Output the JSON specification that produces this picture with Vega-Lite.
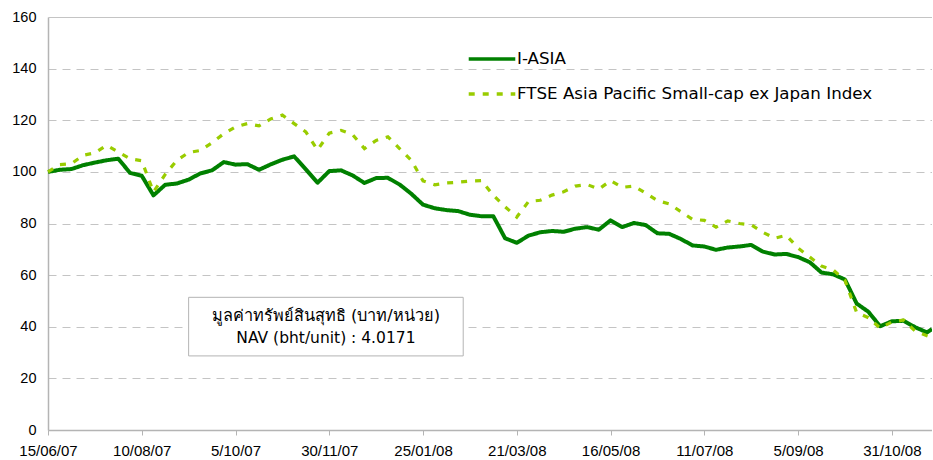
{
  "$schema": "https://vega.github.io/schema/vega-lite/v6.json",
  "width": 884,
  "height": 413,
  "autosize": {"type": "none"},
  "padding": {"left": 48, "top": 17, "right": 0, "bottom": 30},
  "background": "white",
  "config": {"view": {"stroke": null}, "font": "Liberation Sans"},
  "datasets": {
    "nav": [
      {"date": "2007-06-15", "iasia": 100, "ftse": 100},
      {"date": "2007-06-22", "iasia": 100.8, "ftse": 102.8},
      {"date": "2007-06-29", "iasia": 101.1, "ftse": 103.2},
      {"date": "2007-07-06", "iasia": 102.6, "ftse": 106.4},
      {"date": "2007-07-13", "iasia": 103.6, "ftse": 107.4},
      {"date": "2007-07-20", "iasia": 104.5, "ftse": 110.3},
      {"date": "2007-07-27", "iasia": 105.1, "ftse": 107.7},
      {"date": "2007-08-03", "iasia": 99.6, "ftse": 105.1},
      {"date": "2007-08-10", "iasia": 98.5, "ftse": 104.3},
      {"date": "2007-08-17", "iasia": 90.9, "ftse": 92.2},
      {"date": "2007-08-24", "iasia": 95, "ftse": 99},
      {"date": "2007-08-31", "iasia": 95.5, "ftse": 104.5},
      {"date": "2007-09-07", "iasia": 97, "ftse": 107.5},
      {"date": "2007-09-14", "iasia": 99.4, "ftse": 108.3},
      {"date": "2007-09-21", "iasia": 100.6, "ftse": 111.3},
      {"date": "2007-09-28", "iasia": 103.8, "ftse": 114.8},
      {"date": "2007-10-05", "iasia": 102.8, "ftse": 117.4},
      {"date": "2007-10-12", "iasia": 103, "ftse": 118.7},
      {"date": "2007-10-19", "iasia": 100.8, "ftse": 117.8},
      {"date": "2007-10-26", "iasia": 102.9, "ftse": 120.5},
      {"date": "2007-11-02", "iasia": 104.7, "ftse": 122},
      {"date": "2007-11-09", "iasia": 106, "ftse": 118.7},
      {"date": "2007-11-16", "iasia": 101, "ftse": 115.5},
      {"date": "2007-11-23", "iasia": 95.8, "ftse": 108.5},
      {"date": "2007-11-30", "iasia": 100.3, "ftse": 115},
      {"date": "2007-12-07", "iasia": 100.6, "ftse": 116.1},
      {"date": "2007-12-14", "iasia": 98.6, "ftse": 114.4},
      {"date": "2007-12-21", "iasia": 95.7, "ftse": 109},
      {"date": "2007-12-28", "iasia": 97.6, "ftse": 112.2},
      {"date": "2008-01-04", "iasia": 97.7, "ftse": 113.6},
      {"date": "2008-01-11", "iasia": 95.1, "ftse": 109},
      {"date": "2008-01-18", "iasia": 91.5, "ftse": 104.5},
      {"date": "2008-01-25", "iasia": 87.3, "ftse": 96.5},
      {"date": "2008-02-01", "iasia": 85.9, "ftse": 95},
      {"date": "2008-02-08", "iasia": 85.2, "ftse": 95.7},
      {"date": "2008-02-15", "iasia": 84.8, "ftse": 96},
      {"date": "2008-02-22", "iasia": 83.4, "ftse": 96.4},
      {"date": "2008-02-29", "iasia": 82.8, "ftse": 96.6},
      {"date": "2008-03-07", "iasia": 82.8, "ftse": 90.9},
      {"date": "2008-03-14", "iasia": 74.3, "ftse": 86.5},
      {"date": "2008-03-21", "iasia": 72.5, "ftse": 82.5},
      {"date": "2008-03-28", "iasia": 75.3, "ftse": 88.5},
      {"date": "2008-04-04", "iasia": 76.6, "ftse": 89},
      {"date": "2008-04-11", "iasia": 77.1, "ftse": 91},
      {"date": "2008-04-18", "iasia": 76.8, "ftse": 92.3},
      {"date": "2008-04-25", "iasia": 78, "ftse": 94.5},
      {"date": "2008-05-02", "iasia": 78.6, "ftse": 95.1},
      {"date": "2008-05-09", "iasia": 77.6, "ftse": 93.3},
      {"date": "2008-05-16", "iasia": 81.2, "ftse": 96.6},
      {"date": "2008-05-23", "iasia": 78.6, "ftse": 94},
      {"date": "2008-05-30", "iasia": 80.2, "ftse": 94.5},
      {"date": "2008-06-06", "iasia": 79.4, "ftse": 91.8},
      {"date": "2008-06-13", "iasia": 76.2, "ftse": 88.9},
      {"date": "2008-06-20", "iasia": 76, "ftse": 87.6},
      {"date": "2008-06-27", "iasia": 74, "ftse": 84.6},
      {"date": "2008-07-04", "iasia": 71.5, "ftse": 81.6},
      {"date": "2008-07-11", "iasia": 71.1, "ftse": 81.2},
      {"date": "2008-07-18", "iasia": 69.8, "ftse": 78.6},
      {"date": "2008-07-25", "iasia": 70.7, "ftse": 81},
      {"date": "2008-08-01", "iasia": 71.1, "ftse": 80},
      {"date": "2008-08-08", "iasia": 71.7, "ftse": 79.5},
      {"date": "2008-08-15", "iasia": 69.1, "ftse": 76.6},
      {"date": "2008-08-22", "iasia": 68, "ftse": 74.3},
      {"date": "2008-08-29", "iasia": 68.2, "ftse": 75.4},
      {"date": "2008-09-05", "iasia": 67, "ftse": 70.5},
      {"date": "2008-09-12", "iasia": 65, "ftse": 67},
      {"date": "2008-09-19", "iasia": 61, "ftse": 63.5},
      {"date": "2008-09-26", "iasia": 60.3, "ftse": 62},
      {"date": "2008-10-03", "iasia": 58.3, "ftse": 58},
      {"date": "2008-10-10", "iasia": 49, "ftse": 45.5},
      {"date": "2008-10-17", "iasia": 45.8, "ftse": 43.5},
      {"date": "2008-10-24", "iasia": 40.2, "ftse": 39.5},
      {"date": "2008-10-31", "iasia": 42.1, "ftse": 41.8},
      {"date": "2008-11-07", "iasia": 42.3, "ftse": 42.6},
      {"date": "2008-11-14", "iasia": 39.8, "ftse": 38.3},
      {"date": "2008-11-21", "iasia": 37.8, "ftse": 36.5},
      {"date": "2008-11-24", "iasia": 39.1, "ftse": 35.8}
    ]
  },
  "layer": [
    {
      "data": {"values": [{}]},
      "mark": {"type": "rect", "fill": "white", "stroke": "#b4b4b4", "strokeWidth": 1},
      "encoding": {
        "x": {"datum": {"year": 2007, "month": 9, "date": 7, "utc": true}, "type": "temporal"},
        "x2": {"datum": {"year": 2008, "month": 2, "date": 18, "utc": true}},
        "y": {"datum": 51.4, "type": "quantitative"},
        "y2": {"datum": 28.7}
      }
    },
    {
      "data": {"values": [{}]},
      "mark": {"type": "text", "font": "DejaVu Sans", "fontSize": 16.3, "color": "black", "align": "center", "baseline": "middle"},
      "encoding": {
        "x": {"datum": {"year": 2007, "month": 11, "date": 28, "utc": true}, "type": "temporal"},
        "y": {"datum": 44.1, "type": "quantitative"},
        "text": {"value": "มูลค่าทรัพย์สินสุทธิ (บาท/หน่วย)"}
      }
    },
    {
      "data": {"values": [{}]},
      "mark": {"type": "text", "font": "DejaVu Sans", "fontSize": 15.5, "color": "black", "align": "center", "baseline": "middle"},
      "encoding": {
        "x": {"datum": {"year": 2007, "month": 11, "date": 28, "utc": true}, "type": "temporal"},
        "y": {"datum": 35.6, "type": "quantitative"},
        "text": {"value": "NAV (bht/unit) : 4.0171"}
      }
    },
    {
      "data": {"name": "nav"},
      "transform": [
        {"fold": ["iasia", "ftse"], "as": ["series", "value"]},
        {"filter": "datum.series == 'iasia'"}
      ],
      "mark": {"type": "line", "strokeWidth": 4, "strokeJoin": "round"},
      "encoding": {
        "x": {"field": "date", "type": "temporal"},
        "y": {"field": "value", "type": "quantitative"},
        "color": {"field": "series", "type": "nominal"},
        "strokeDash": {"field": "series", "type": "nominal"}
      }
    },
    {
      "data": {"name": "nav"},
      "transform": [
        {"fold": ["iasia", "ftse"], "as": ["series", "value"]},
        {"filter": "datum.series == 'ftse'"}
      ],
      "mark": {"type": "line", "strokeWidth": 3.2},
      "encoding": {
        "x": {"field": "date", "type": "temporal"},
        "y": {"field": "value", "type": "quantitative"},
        "color": {"field": "series", "type": "nominal"},
        "strokeDash": {"field": "series", "type": "nominal"}
      }
    }
  ],
  "resolve": {"scale": {"x": "shared", "y": "shared"}},
  "encoding": {
    "x": {
      "type": "temporal",
      "scale": {"type": "utc", "domain": [{"year": 2007, "month": 6, "date": 15, "utc": true}, {"year": 2008, "month": 11, "date": 24, "utc": true}]},
      "axis": {
        "title": null,
        "grid": false,
        "values": [
          {"year": 2007, "month": 6, "date": 15, "utc": true},
          {"year": 2007, "month": 8, "date": 10, "utc": true},
          {"year": 2007, "month": 10, "date": 5, "utc": true},
          {"year": 2007, "month": 11, "date": 30, "utc": true},
          {"year": 2008, "month": 1, "date": 25, "utc": true},
          {"year": 2008, "month": 3, "date": 21, "utc": true},
          {"year": 2008, "month": 5, "date": 16, "utc": true},
          {"year": 2008, "month": 7, "date": 11, "utc": true},
          {"year": 2008, "month": 9, "date": 5, "utc": true},
          {"year": 2008, "month": 10, "date": 31, "utc": true}
        ],
        "labelExpr": "utcFormat(datum.value, '%-d/%m/%y')",
        "labelFont": "Liberation Sans",
        "labelFontSize": 15,
        "labelColor": "black",
        "labelPadding": 8,
        "labelFlush": false,
        "labelOverlap": false,
        "tickSize": 5,
        "tickColor": "#b4b4b4",
        "domainColor": "#b4b4b4",
        "domainWidth": 1.5
      }
    },
    "y": {
      "type": "quantitative",
      "scale": {"domain": [0, 160], "nice": false, "zero": true},
      "axis": {
        "title": null,
        "values": [0, 20, 40, 60, 80, 100, 120, 140, 160],
        "grid": true,
        "gridColor": "#c4c4c4",
        "gridDash": {"condition": {"test": "datum.value == 160", "value": []}, "value": [8, 6]},
        "ticks": false,
        "labelPadding": 12,
        "labelFont": "Liberation Sans",
        "labelFontSize": 14.5,
        "labelColor": "black",
        "domainColor": "#b4b4b4",
        "domainWidth": 1.5
      }
    },
    "color": {
      "type": "nominal",
      "scale": {"domain": ["iasia", "ftse"], "range": ["#008000", "#99cc00"]},
      "legend": {
        "title": null,
        "orient": "none",
        "legendX": 434,
        "legendY": 32,
        "padding": 0,
        "symbolType": "M-3,0H3",
        "symbolSize": 241,
        "symbolStrokeWidth": 3.6,
        "labelOffset": 15,
        "rowPadding": 16,
        "labelFont": "DejaVu Sans",
        "labelFontSize": 16.7,
        "labelColor": "black",
        "labelLimit": 500,
        "labelExpr": "datum.value == 'iasia' ? 'I-ASIA' : 'FTSE Asia Pacific Small-cap ex Japan Index'"
      }
    },
    "strokeDash": {
      "type": "nominal",
      "scale": {"domain": ["iasia", "ftse"], "range": [[1, 0], [6, 8]]},
      "legend": {
        "title": null,
        "orient": "none",
        "legendX": 434,
        "legendY": 32,
        "padding": 0,
        "symbolType": "M-3,0H3",
        "symbolSize": 241,
        "symbolStrokeWidth": 3.6,
        "labelOffset": 15,
        "rowPadding": 16,
        "labelFont": "DejaVu Sans",
        "labelFontSize": 16.7,
        "labelColor": "black",
        "labelLimit": 500,
        "labelExpr": "datum.value == 'iasia' ? 'I-ASIA' : 'FTSE Asia Pacific Small-cap ex Japan Index'"
      }
    }
  }
}
